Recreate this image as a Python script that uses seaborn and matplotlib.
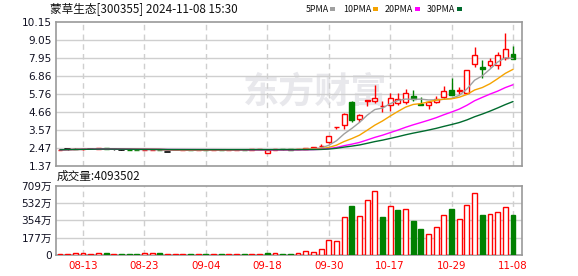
import numpy as np
import pandas as pd
import matplotlib
matplotlib.use("Agg")
import matplotlib.pyplot as plt
from matplotlib.patches import Rectangle
import seaborn as sns

# ---------------- data ----------------
dates = ["08-08","08-09","08-12","08-13","08-14","08-15","08-16","08-19","08-20","08-21",
         "08-22","08-23","08-26","08-27","08-28","08-29","08-30","09-02","09-03","09-04",
         "09-05","09-06","09-09","09-10","09-11","09-12","09-13","09-18","09-19","09-20",
         "09-23","09-24","09-25","09-26","09-27","09-30","10-08","10-09","10-10","10-11",
         "10-14","10-15","10-16","10-17","10-18","10-21","10-22","10-23","10-24","10-25",
         "10-28","10-29","10-30","10-31","11-01","11-04","11-05","11-06","11-07","11-08"]
opens = [2.31,2.36,2.40,2.36,2.39,2.38,2.44,2.36,2.35,2.35,
         2.34,2.33,2.34,2.35,2.22,2.33,2.33,2.34,2.33,2.34,
         2.33,2.34,2.33,2.34,2.35,2.34,2.36,2.17,2.33,2.37,
         2.36,2.36,2.40,2.47,2.56,2.79,3.74,3.83,5.27,4.19,
         5.34,5.33,4.99,5.05,5.17,5.23,5.62,5.13,5.05,5.25,
         5.54,5.98,5.94,5.82,7.55,7.39,7.49,7.49,7.96,8.18]
highs = [2.35,2.37,2.44,2.40,2.40,2.45,2.45,2.37,2.36,2.35,
         2.34,2.35,2.35,2.35,2.23,2.34,2.34,2.34,2.34,2.34,
         2.34,2.34,2.34,2.35,2.35,2.36,2.38,2.31,2.37,2.37,
         2.36,2.38,2.47,2.50,2.69,3.16,3.75,4.58,5.31,4.54,
         5.35,6.31,5.31,5.78,5.78,6.02,5.98,5.54,5.23,5.62,
         6.25,6.72,6.15,7.18,8.63,7.81,7.91,8.28,9.46,8.67]
lows = [2.30,2.35,2.36,2.35,2.38,2.37,2.39,2.35,2.34,2.34,
        2.33,2.33,2.34,2.33,2.21,2.33,2.33,2.33,2.33,2.33,
        2.33,2.33,2.33,2.34,2.34,2.34,2.36,2.16,2.33,2.35,
        2.35,2.36,2.38,2.46,2.49,2.73,3.61,3.63,4.05,4.05,
        5.02,5.21,4.66,4.72,5.07,5.11,5.31,5.05,4.85,5.17,
        5.41,5.70,5.74,5.74,7.41,6.69,7.37,7.29,7.79,7.89]
closes = [2.34,2.36,2.38,2.39,2.39,2.43,2.40,2.36,2.35,2.34,
          2.33,2.34,2.35,2.33,2.22,2.33,2.34,2.33,2.34,2.33,
          2.34,2.33,2.34,2.35,2.34,2.36,2.38,2.30,2.37,2.36,
          2.35,2.38,2.44,2.49,2.60,3.16,3.75,4.54,4.15,4.44,
          5.35,5.49,5.00,5.48,5.41,5.78,5.41,5.07,5.23,5.45,
          5.94,5.70,5.98,7.18,8.12,7.27,7.73,8.14,8.50,7.89]
volumes = [5,5,20,14,5,22,14,5,5,5,
           5,14,14,14,5,5,5,5,5,5,
           5,5,5,5,5,5,5,14,14,5,
           5,15,34,26,55,148,138,383,500,397,
           561,654,386,500,462,469,345,263,211,280,
           407,469,366,510,633,407,421,438,489,409.35]   # 万股
vol_up = [1,1,1,1,1,1,0,1,0,0,
          0,1,1,0,1,1,1,0,1,0,
          1,0,1,1,0,1,1,0,1,0,
          0,1,1,1,1,1,1,1,0,1,
          1,1,0,1,0,1,0,0,1,1,
          1,0,1,1,1,0,1,1,1,0]
ma_periods = [5, 10, 20, 30]
ma_names = ["5PMA", "10PMA", "20PMA", "30PMA"]
price_ticks = ["1.37","2.47","3.57","4.66","5.76","6.86","7.95","9.05","10.15"]
vol_ticks = [0, 177, 354, 532, 709]
vol_tick_labels = ["0", "177万", "354万", "532万", "709万"]
xtick_labels = ["08-13","08-23","09-04","09-18","09-30","10-17","10-29","11-08"]
title = "蒙草生态[300355] 2024-11-08 15:30"
vol_title = "成交量:4093502"
watermark = "东方财富"

# ---------------- style ----------------
sns.set_style("white")
plt.rcParams['font.family'] = ['DejaVu Sans', 'Noto Sans CJK SC']
CJK = ['Noto Sans CJK SC', 'DejaVu Sans']

RED = "#ff0000"
GREEN = "#008000"
MA_COLORS = ["#a0a0a0", "#f5a300", "#ff00ff", "#006b2e"]
GRID = "#cfcfcf"
BORDER = "#999999"

W, H = 578, 276
fig = plt.figure(figsize=(W / 100, H / 100), dpi=100)

def fx(x):
    return x / W

def fy(y):
    return 1 - y / H

L, R = 56, 522
ax = fig.add_axes([fx(L), fy(165.7), fx(R) - fx(L), fy(21.7) - fy(165.7)])
ax2 = fig.add_axes([fx(L), fy(255), fx(R) - fx(L), fy(185.7) - fy(255)])

n = len(dates)
xs = np.arange(n)
df = pd.DataFrame({"x": xs, "open": opens, "high": highs, "low": lows,
                   "close": closes, "vol": volumes, "up": vol_up})
for p in ma_periods:
    df[f"ma{p}"] = df["close"].rolling(p, min_periods=1).mean()

bw = 0.64
# candles
for i, r in df.iterrows():
    o, h, l, c = r["open"], r["high"], r["low"], r["close"]
    if c > o:
        col = RED
    elif c < o:
        col = GREEN
    else:
        col = "#000000"
    ax.plot([r["x"], r["x"]], [l, h], color=col, lw=1, zorder=2, solid_capstyle="butt")
    if c == o:
        ax.plot([r["x"] - bw / 2, r["x"] + bw / 2], [c, c], color=col, lw=1.2, zorder=2.1)
    else:
        fc = "white" if c > o else col
        ax.add_patch(Rectangle((r["x"] - bw / 2, min(o, c)), bw, abs(c - o),
                               facecolor=fc, edgecolor=col, lw=1, zorder=2.1))

# moving averages
for p, col in zip(ma_periods, MA_COLORS):
    sns.lineplot(data=df, x="x", y=f"ma{p}", ax=ax, color=col, lw=1, zorder=3)

# volume (drawn above the bottom spine so the tiny bars stay visible)
for i, r in df.iterrows():
    if r["up"]:
        ax2.bar(r["x"], r["vol"], width=bw, bottom=2, facecolor="white", edgecolor=RED,
                lw=1, zorder=3)
    else:
        ax2.bar(r["x"], r["vol"], width=bw, bottom=2, facecolor=GREEN, edgecolor=GREEN,
                lw=1, zorder=3)

xlim = (-0.52, n - 1 + 1.17)
tick_idx = [dates.index(d) for d in xtick_labels]
pvals = [float(t) for t in price_ticks]

for a in (ax, ax2):
    a.set_xlim(*xlim)
    a.set_xlabel("")
    a.set_ylabel("")
    for s in a.spines.values():
        s.set_color(BORDER)
        s.set_linewidth(1.2)
        s.set_zorder(2.5)
    for t in tick_idx:
        a.axvline(t, color=GRID, lw=1, ls=(0, (4, 3)), zorder=1)
    a.tick_params(length=0, pad=3, labelsize=7.6, labelcolor="#111122")

ax.set_ylim(pvals[0], pvals[-1])
ax.set_yticks(pvals)
ax.set_yticklabels(price_ticks)
ax.set_xticks([])
for v in pvals[1:-1]:
    ax.axhline(v, color=GRID, lw=1, zorder=1)

ax2.set_ylim(0, vol_ticks[-1])
ax2.set_yticks(vol_ticks)
ax2.set_yticklabels(vol_tick_labels)
for v in vol_ticks[1:-1]:
    ax2.axhline(v, color=GRID, lw=1, zorder=1)
ax2.set_xticks(tick_idx)
ax2.set_xticklabels(xtick_labels, color=RED, fontsize=7.4)
ax2.tick_params(axis="x", pad=4.5)

# watermark
ax.text((315 - L) / (R - L), 1 - (92 - 21.7) / 144, watermark, transform=ax.transAxes,
        ha="center", va="center", fontsize=26, fontweight="bold", color="#e8e8ec",
        family=CJK, zorder=0.5)

# titles
fig.text(fx(50), fy(8.5), title, ha="left", va="center", fontsize=8.4, family=CJK, color="#111111")
fig.text(fx(57), fy(176.8), vol_title, ha="left", va="center", fontsize=8.4, family=CJK, color="#111111")

# legend
leg_x = [306, 343, 385, 427]
sq_x = [330, 373, 415, 457]
for name, col, tx, sx in zip(ma_names, MA_COLORS, leg_x, sq_x):
    fig.text(fx(tx), fy(9), name, ha="left", va="center", fontsize=6.4, family=CJK, color="#111111")
    fig.patches.append(Rectangle((fx(sx), fy(10.5)), 5 / W, 3.5 / H, transform=fig.transFigure,
                                 facecolor=col, edgecolor="none", figure=fig))

fig.savefig("out.png", dpi=100)
